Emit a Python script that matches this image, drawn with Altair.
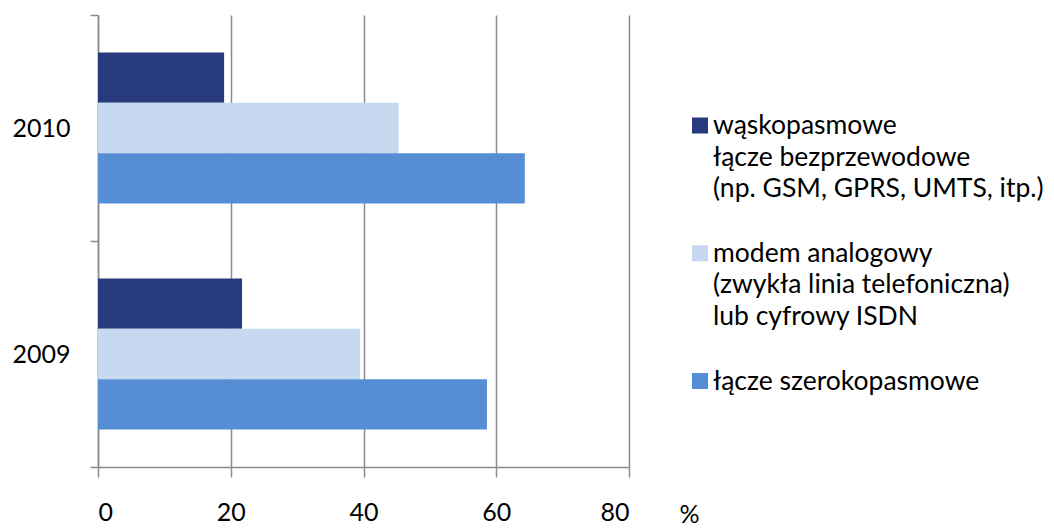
import altair as alt
import pandas as pd

years = ["2010", "2009"]
series = ["wąskopasmowe", "modem analogowy", "łącze szerokopasmowe"]
legend_lines = [
    ["wąskopasmowe", "łącze bezprzewodowe", "(np. GSM, GPRS, UMTS, itp.)"],
    ["modem analogowy", "(zwykła linia telefoniczna)", "lub cyfrowy ISDN"],
    ["łącze szerokopasmowe"],
]
values_2010 = [19.0, 45.3, 64.3]
values_2009 = [21.7, 39.5, 58.6]
colors = ["#283a7e", "#c6d9f0", "#558ed5"]

rows = []
for y, vals in zip(years, [values_2010, values_2009]):
    for s, v in zip(series, vals):
        rows.append({"year": y, "series": s, "value": v})
df = pd.DataFrame(rows)

leg_data = alt.Data(values=[{"series": s, "lines": l} for s, l in zip(series, legend_lines)])

FONT = "Lato"
GRID = "#8c8c8c"

color_enc = alt.Color("series:N", sort=series,
                      scale=alt.Scale(domain=series, range=colors), legend=None)

bars = alt.Chart(df).mark_bar().encode(
    x=alt.X("value:Q",
            scale=alt.Scale(domain=[0, 80]),
            axis=alt.Axis(values=[0, 20, 40, 60, 80], title="%",
                          titleX=591, titleY=47, titleAngle=0,
                          titleBaseline="middle", titleAlign="center",
                          titleFontWeight="normal", titleFontSize=25,
                          titleColor="black",
                          grid=True, gridColor=GRID, gridWidth=1.5,
                          tickSize=10, tickColor=GRID, tickWidth=1.5,
                          domainColor=GRID, domainWidth=1.5,
                          labelPadding=23, labelFontSize=25, labelColor="black")),
    y=alt.Y("year:N", sort=years,
            scale=alt.Scale(paddingInner=0, paddingOuter=0),
            axis=alt.Axis(title=None, tickBand="extent", grid=False,
                          tickSize=8, tickColor=GRID, tickWidth=1.5,
                          domainColor=GRID, domainWidth=1.5,
                          labelPadding=20, labelFontSize=25, labelColor="black")),
    yOffset=alt.YOffset("series:N", sort=series,
                        scale=alt.Scale(paddingInner=0, paddingOuter=0.745)),
    color=color_enc,
)

leg_y = alt.Y("series:N", sort=series,
              scale=alt.Scale(type="point", domain=series, range=[110.5, 366], padding=0),
              axis=None)

leg_sym = alt.Chart(leg_data).mark_square(size=256, opacity=1, strokeWidth=0).encode(
    x=alt.value(602),
    y=leg_y,
    color=color_enc,
)

leg_text = alt.Chart(leg_data).mark_text(
    align="left", baseline="alphabetic", dy=8.5, fontSize=26.5,
    lineHeight=31.5, color="black", font=FONT,
).encode(
    x=alt.value(615),
    y=leg_y,
    text=alt.Text("lines:N"),
)

chart = alt.layer(bars, leg_sym, leg_text).resolve_scale(
    y="independent"
).properties(
    width=531, height=452,
    autosize=alt.AutoSizeParams(type="none"),
    padding={"left": 90, "top": 7, "right": 417, "bottom": 60},
).configure(
    font=FONT,
).configure_view(
    stroke=None,
)

chart.save("out.html", embed_options={"renderer": "svg", "actions": False})
